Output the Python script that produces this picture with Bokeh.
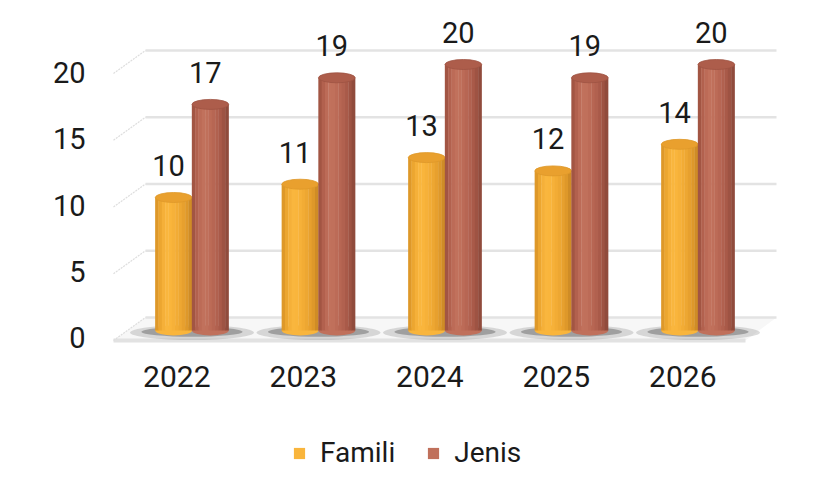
from bokeh.plotting import figure
from bokeh.models import Range1d, LinearAxis, FixedTicker, Legend, LegendItem
from bokeh.core.properties import value
from bokeh.embed import file_html
from bokeh.resources import INLINE

years = ["2022", "2023", "2024", "2025", "2026"]
famili = [10, 11, 13, 12, 14]
jenis = [17, 19, 20, 19, 20]
y_ticks = [0, 5, 10, 15, 20]

FONT = "Roboto"

# cylinder shading, left to right
famili_shades = ["#de9829", "#eca630", "#f5b039", "#f9b63e", "#f9b53c", "#f6b139",
                 "#f2ac35", "#eda732", "#e7a02e", "#de982a", "#cf8c26"]
jenis_shades = ["#a25543", "#b2614e", "#bc6b57", "#c1715c", "#c0705b", "#bc6b57",
                "#b76653", "#b1614f", "#a95a49", "#9e5343", "#904b3c"]

p = figure(width=807, height=486, output_backend="svg", toolbar_location=None,
           x_axis_location=None, y_axis_location=None,
           x_range=Range1d(-0.7628, 4.8656), y_range=Range1d(-11.729, 24.812),
           min_border_left=95, min_border_right=0, min_border_top=0, min_border_bottom=0)
p.outline_line_color = None
p.grid.grid_line_color = None
p.background_fill_color = "white"

# tick labels sit a little lower than the bar floor (perspective)
p.extra_y_ranges = {"lab": Range1d(-11.245, 25.434)}
yax = LinearAxis(y_range_name="lab", ticker=FixedTicker(ticks=y_ticks))
yax.axis_line_color = None
yax.major_tick_line_color = None
yax.minor_tick_line_color = None
yax.major_label_standoff = 4
yax.major_label_text_font = FONT
yax.major_label_text_font_size = "29px"
yax.major_label_text_color = "#1a1a1a"
p.add_layout(yax, "left")

# floor and back wall
px = 126.5
def ux(page_x):
    return (page_x - 191.5) / px
def vy(page_y):
    return (330 - page_y) / 13.3

p.patch([ux(113), ux(745), ux(776), ux(145)], [vy(340), vy(340), vy(317), vy(317)],
        fill_color="#f7f7f7", line_color=None)
p.line([ux(113), ux(745)], [vy(340), vy(340)], line_color="#e2e2e2", line_width=4)

for t in y_ticks:
    gy = 317 - 13.35 * t
    p.line([ux(145), ux(776)], [vy(gy), vy(gy)], line_color="#e3e3e3", line_width=2.5)
    p.line([ux(113), ux(145)], [vy(gy + 23), vy(gy)], line_color="#dedede", line_width=1.2,
           line_dash="2 1")

xs = list(range(len(years)))
bw = 0.29
off = 0.145

# shadows on the floor
p.ellipse(x=xs, y=[-0.15] * len(xs), width=[0.98] * len(xs), height=15,
          height_units="screen", fill_color="#8a8a8a", fill_alpha=0.3, line_color=None)
p.ellipse(x=xs, y=[-0.1] * len(xs), width=[0.8] * len(xs), height=10,
          height_units="screen", fill_color="#5e5e5e", fill_alpha=0.45, line_color=None)

legend_items = []
for name, vals, shades, top_col, sign in [("Famili", famili, famili_shades, "#e9a02e", -1),
                                           ("Jenis", jenis, jenis_shades, "#ad5d4b", 1)]:
    cx = [i + sign * off for i in xs]
    n = len(shades)
    sw = bw / n
    p.ellipse(x=cx, y=[0] * len(xs), width=[bw] * len(xs), height=10, height_units="screen",
              fill_color=shades[4], line_color=None)
    mid = None
    for k, c in enumerate(shades):
        r = p.vbar(x=[x - bw / 2 + sw * (k + 0.5) for x in cx], top=vals, bottom=0,
                   width=sw * 1.1, fill_color=c, line_color=None)
        if k == 4:
            mid = r
    p.ellipse(x=cx, y=vals, width=[bw] * len(xs), height=10, height_units="screen",
              fill_color=top_col, line_color=shades[-2], line_width=0.8)
    p.text(x=[x - 0.04 for x in cx], y=vals, text=[str(v) for v in vals], y_offset=-32,
           text_align="center", text_baseline="middle", text_font=value(FONT),
           text_font_size="29px", text_color="#1a1a1a")
    legend_items.append(LegendItem(label=name, renderers=[mid]))

p.text(x=[i - 0.12 for i in xs], y=[vy(376)] * len(xs), text=years, text_align="center",
       text_baseline="middle", text_font=value(FONT), text_font_size="30px",
       text_color="#1a1a1a")

legend = Legend(items=legend_items, orientation="horizontal", location=(197, 17))
legend.border_line_color = None
legend.background_fill_alpha = 0
legend.padding = 0
legend.margin = 0
legend.spacing = 31
legend.glyph_width = 14
legend.glyph_height = 14
legend.label_standoff = 14
legend.label_text_font = FONT
legend.label_text_font_size = "28px"
legend.label_text_color = "#1a1a1a"
p.add_layout(legend)

open("out.html", "w").write(file_html(p, INLINE))
